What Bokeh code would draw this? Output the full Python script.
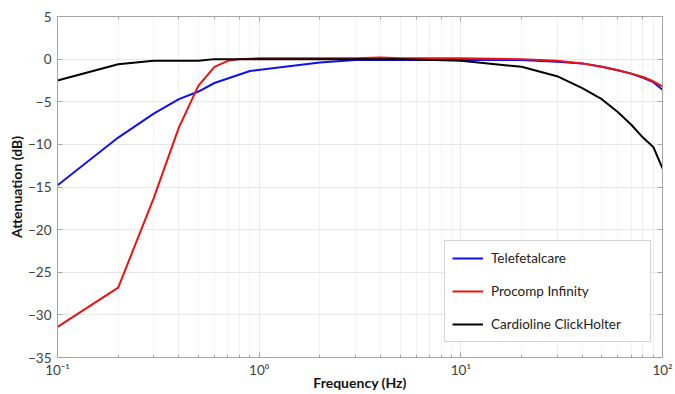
from bokeh.plotting import figure
from bokeh.models import (LogAxis, LinearAxis, SingleIntervalTicker, CustomJSTickFormatter,
                          Legend, LegendItem, Range1d, LogTicker)
from bokeh.embed import file_html
from bokeh.resources import INLINE

# ---- data ----
freq_tel = [0.1, 0.2, 0.3, 0.4, 0.5, 0.6, 0.9, 2, 3, 5, 10, 20, 30, 40, 50, 60, 70, 80, 90, 100]
att_tel = [-14.8, -9.2, -6.4, -4.7, -3.8, -2.8, -1.4, -0.4, -0.1, -0.1, -0.1, -0.1, -0.3, -0.5,
           -0.9, -1.3, -1.7, -2.2, -2.7, -3.6]

freq_pro = [0.1, 0.2, 0.3, 0.4, 0.5, 0.6, 0.7, 0.8, 1, 2, 3, 4, 5, 10, 20, 30, 40, 50, 60, 70, 80, 90, 100]
att_pro = [-31.4, -26.8, -16.3, -8.0, -3.1, -0.9, -0.2, 0.0, 0.1, 0.1, 0.1, 0.2, 0.1, 0.1, 0.0,
           -0.2, -0.5, -0.9, -1.3, -1.7, -2.1, -2.6, -3.2]

freq_car = [0.1, 0.2, 0.3, 0.4, 0.5, 0.6, 0.7, 1, 2, 5, 10, 20, 30, 40, 50, 60, 70, 80, 90, 100]
att_car = [-2.5, -0.6, -0.2, -0.2, -0.2, 0.0, 0.0, 0.0, 0.0, 0.0, -0.2, -0.9, -2.0, -3.4,
           -4.7, -6.2, -7.7, -9.2, -10.3, -12.8]

series_names = ["Telefetalcare", "Procomp Infinity", "Cardioline ClickHolter"]
series_colors = ["#1010ee", "#ee1111", "#000000"]

FONT = "Lato"
GRID = "#e8e8e8"
FRAME = "#a6a6a6"

p = figure(width=675, height=394, x_axis_type="log",
           x_range=Range1d(0.1, 100), y_range=Range1d(-35, 5),
           output_backend="svg", toolbar_location=None,
           min_border_top=16, min_border_right=13, min_border_left=57, min_border_bottom=37)
p.outline_line_color = FRAME

# bottom axis
xa = p.xaxis[0]
xa.axis_label = "Frequency (Hz)"
xa.formatter = CustomJSTickFormatter(code="""
const m = {"-1": "10\u207b\u00b9", "0": "10\u2070", "1": "10\u00b9", "2": "10\u00b2"};
const e = Math.round(Math.log10(tick));
return m[String(e)] || "";
""")
yx = p.yaxis[0]
yx.axis_label = "Attenuation (dB)"
yx.ticker = SingleIntervalTicker(interval=5, num_minor_ticks=0)

for ax in (xa, yx):
    ax.axis_label_text_font = FONT
    ax.axis_label_text_font_style = "bold"
    ax.axis_label_text_font_size = "14px"
    ax.axis_label_text_color = "#111111"
    ax.major_label_text_font = FONT
    ax.major_label_text_font_size = "13.5px"
    ax.major_label_text_color = "#404040"
    ax.axis_line_color = FRAME
    ax.major_tick_line_color = FRAME
    ax.minor_tick_line_color = FRAME
    ax.major_tick_in = 5
    ax.major_tick_out = 0
    ax.minor_tick_in = 3
    ax.minor_tick_out = 0
xa.axis_label_standoff = -7
xa.major_label_standoff = 4
yx.axis_label_standoff = 0
yx.major_label_standoff = 6

top = LogAxis(ticker=LogTicker(), major_label_text_font_size="0px", axis_line_color=FRAME,
              major_tick_line_color=FRAME, minor_tick_line_color=FRAME,
              major_tick_in=5, major_tick_out=0, minor_tick_in=3, minor_tick_out=0)
top.major_label_text_alpha = 0
p.add_layout(top, "above")
right = LinearAxis(ticker=SingleIntervalTicker(interval=5, num_minor_ticks=0),
                   major_label_text_font_size="0px", axis_line_color=FRAME,
                   major_tick_line_color=FRAME, major_tick_in=5, major_tick_out=0)
right.major_label_text_alpha = 0
p.add_layout(right, "right")

p.xgrid.grid_line_color = GRID
p.xgrid.minor_grid_line_color = "#f2f2f2"
p.ygrid.grid_line_color = GRID
p.ygrid.ticker = yx.ticker

r1 = p.line(freq_tel, att_tel, line_color=series_colors[0], line_width=2)
r2 = p.line(freq_pro, att_pro, line_color=series_colors[1], line_width=2)
r3 = p.line(freq_car, att_car, line_color=series_colors[2], line_width=2)

legend = Legend(items=[LegendItem(label=series_names[0], renderers=[r1]),
                       LegendItem(label=series_names[1], renderers=[r2]),
                       LegendItem(label=series_names[2], renderers=[r3])],
                location=(387, 15), margin=0, padding=7, spacing=13,
                glyph_width=31, glyph_height=20, label_height=20, label_width=152,
                label_standoff=8, label_text_font=FONT, label_text_font_size="13.5px",
                label_text_color="#222222", border_line_color=FRAME,
                background_fill_alpha=1)
p.add_layout(legend, "center")

open("out.html", "w").write(file_html(p, INLINE))
